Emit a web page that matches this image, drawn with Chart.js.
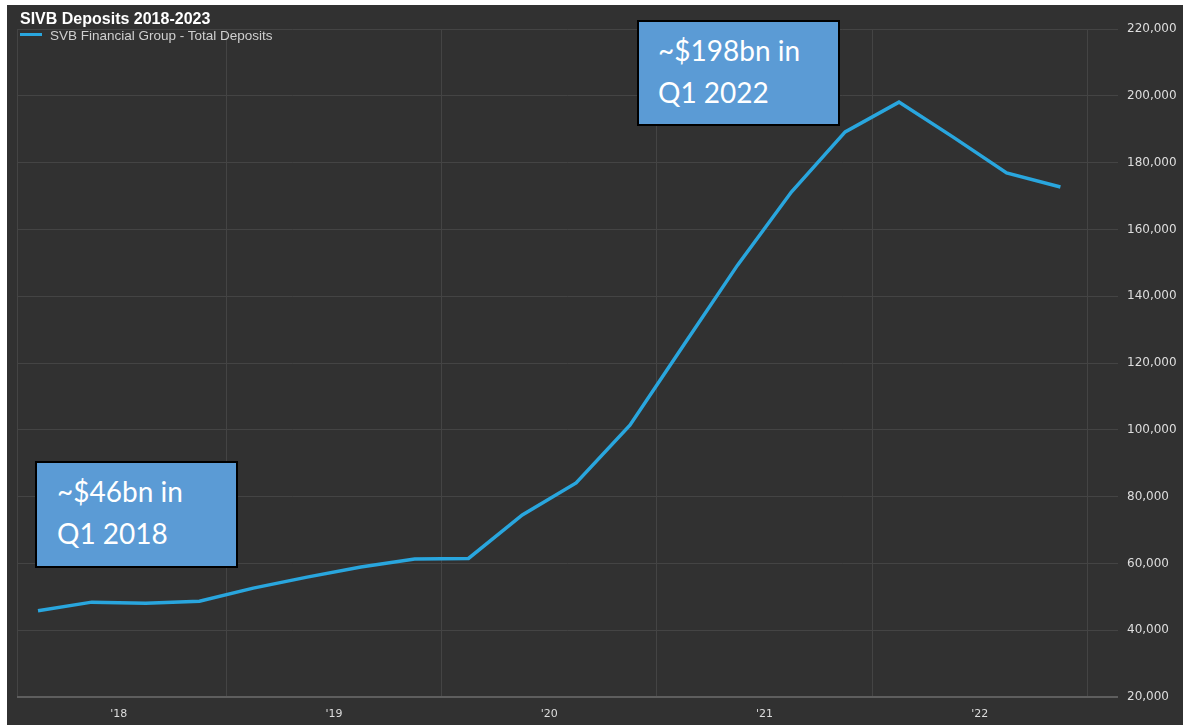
<!DOCTYPE html>
<html>
<head>
<meta charset="utf-8">
<script src="https://cdn.jsdelivr.net/npm/chart.js@4.4.1/dist/chart.umd.min.js"></script>
<style>
  html, body { margin:0; padding:0; background:#ffffff; width:1183px; height:725px; overflow:hidden; }
  #wrap { position:absolute; left:7px; top:5px; width:1176px; height:720px; background:#313131; }
  #c { position:absolute; left:0; top:0; }
  .title { position:absolute; left:20px; top:11px; font:bold 16px/16px "Liberation Sans", Arial, sans-serif; color:#ffffff; white-space:nowrap; }
  .legline { position:absolute; left:20px; top:33px; width:22px; height:3px; background:#29a6de; }
  .legtext { position:absolute; left:50px; top:29px; font:13.5px/13px "Liberation Sans", Arial, sans-serif; color:#cfcfcf; white-space:nowrap; }
  .note { position:absolute; box-sizing:border-box; border:2px solid #000; background:#5b9bd5; color:#fff;
          font:28px/42px Lato, "Open Sans", sans-serif; padding:7px 0 0 20px; white-space:nowrap; }
</style>
</head>
<body>
<div id="wrap"><canvas id="c" width="1176" height="720"></canvas></div>
<div class="title">SIVB Deposits 2018-2023</div>
<div class="legline"></div>
<div class="legtext">SVB Financial Group - Total Deposits</div>
<div class="note" style="left:35px;top:461px;width:203px;height:107px;">~$46bn in<br>Q1 2018</div>
<div class="note" style="left:637px;top:20px;width:203px;height:106px;padding-left:19px;">~$198bn in<br>Q1 2022</div>
<script>
// Quarterly total deposits, $ millions
const quarters = ['Q1 2018','Q2 2018','Q3 2018','Q4 2018',
                  'Q1 2019','Q2 2019','Q3 2019','Q4 2019',
                  'Q1 2020','Q2 2020','Q3 2020','Q4 2020',
                  'Q1 2021','Q2 2021','Q3 2021','Q4 2021',
                  'Q1 2022','Q2 2022','Q3 2022','Q4 2022'];
const deposits = [45800, 48400, 48100, 48700,
                  52600, 55900, 58900, 61300,
                  61500, 74500, 84100, 101400,
                  125400, 149300, 171200, 189200,
                  198100, 187700, 176900, 172700];
const yearLabels = ["'18", "'19", "'20", "'21", "'22"];
const yTickValues = [20000, 40000, 60000, 80000, 100000, 120000, 140000, 160000, 180000, 200000, 220000];

// year label sits in the middle of its four quarters; grid lines at year boundaries
const yearCenters = yearLabels.map((_, i) => i * 4 + 1.5);
const yearBounds = yearLabels.map((_, i) => i * 4 + 3.5);
const X_MIN = -0.39, X_MAX = 20.07;

const points = deposits.map((v, i) => ({ x: i, y: v, q: quarters[i] }));

new Chart(document.getElementById('c'), {
  type: 'line',
  data: {
    datasets: [{
      label: 'SVB Financial Group - Total Deposits',
      data: points,
      xAxisID: 'x',
      yAxisID: 'y',
      borderColor: '#29a6de',
      borderWidth: 3.5,
      pointRadius: 0,
      tension: 0,
      fill: false
    }]
  },
  options: {
    responsive: false,
    animation: false,
    layout: { padding: { left: 10, top: 24, right: 0, bottom: 0 } },
    plugins: { legend: { display: false }, title: { display: false }, tooltip: { enabled: false } },
    scales: {
      x: {
        type: 'linear', position: 'bottom', min: X_MIN, max: X_MAX,
        grid: { color: '#444444', lineWidth: 1, drawTicks: false },
        border: { display: false },
        ticks: { display: false },
        afterBuildTicks: s => { s.ticks = [{ value: X_MIN }].concat(yearBounds.map(v => ({ value: v }))); },
        afterFit: s => { s.height = 0; }
      },
      xl: {
        type: 'linear', position: 'bottom', min: X_MIN, max: X_MAX,
        grid: { display: false, drawTicks: false },
        border: { display: false },
        ticks: {
          color: '#dddddd', font: { family: 'DejaVu Sans', size: 11 }, padding: 11,
          maxRotation: 0, autoSkip: false,
          callback: (value) => { const i = yearCenters.indexOf(value); return i >= 0 ? yearLabels[i] : ''; }
        },
        afterBuildTicks: s => { s.ticks = yearCenters.map(v => ({ value: v })); },
        afterFit: s => { s.height = 28; }
      },
      y: {
        type: 'linear', position: 'right', min: 20000, max: 220000,
        grid: {
          drawTicks: false,
          color: c => (c.tick && c.tick.value === 20000) ? '#5e5e5e' : '#444444',
          lineWidth: c => (c.tick && c.tick.value === 20000) ? 2 : 1
        },
        border: { display: false },
        ticks: {
          color: '#dddddd', font: { family: 'DejaVu Sans', size: 12 }, padding: 9,
          callback: v => v.toLocaleString('en-US')
        },
        afterBuildTicks: s => { s.ticks = yTickValues.map(v => ({ value: v })); },
        afterFit: s => { s.width = 65; }
      }
    }
  }
});
</script>
</body>
</html>
